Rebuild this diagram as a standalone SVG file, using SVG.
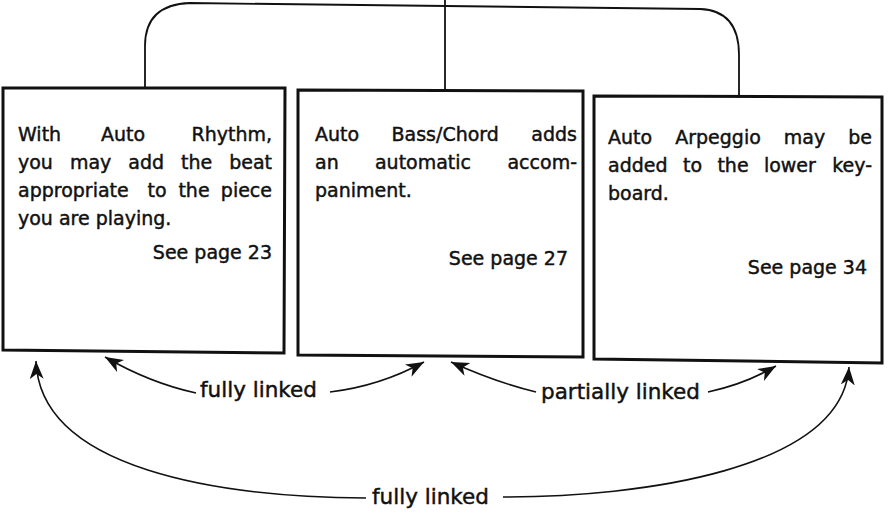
<svg xmlns="http://www.w3.org/2000/svg" width="888" height="523" viewBox="0 0 888 523">
<style>
text{font-family:"DejaVu Sans","Liberation Sans",sans-serif;font-size:19px;fill:#111;stroke:#111;stroke-width:0.45}
.lbl{font-size:21.5px}
.m{text-anchor:middle}
.e{text-anchor:end}
.box{fill:#fff;stroke:#111;stroke-width:3}
.ln{fill:none;stroke:#111;stroke-width:1.6}
.br{fill:none;stroke:#111;stroke-width:1.8}
</style>
<defs>
<marker id="ah" markerUnits="userSpaceOnUse" markerWidth="22" markerHeight="16" refX="18" refY="7" orient="auto">
<path d="M0,0 L18,7 L0,14 L5,7 Z" fill="#111"/>
</marker>
</defs>
<g id="bracket">
<path class="br" d="M145,88 L145,46 C145,18 160,4 190,3 L700,9 C726,10 739,26 739,55 L739,96"/>
<path class="br" d="M445,0 L445,90"/>
</g>
<g id="box1">
<polygon class="box" points="3,88 285,88 284,353 3,350"/>
<text x="18" y="141">With</text><text class="m" x="123" y="141">Auto</text><text class="e" x="272" y="141">Rhythm,</text>
<text x="18" y="169">you</text><text class="m" x="90.6" y="169">may</text><text class="m" x="146.2" y="169">add</text><text class="m" x="196.7" y="169">the</text><text class="e" x="272" y="169">beat</text>
<text x="18" y="197">appropriate</text><text class="m" x="157" y="197">to</text><text class="m" x="194" y="197">the</text><text class="e" x="272" y="197">piece</text>
<text x="18" y="225">you are playing.</text>
<text class="e" x="272" y="259">See page 23</text>
</g>
<g id="box2">
<polygon class="box" points="298,90 583,91 583,357 298,355"/>
<text x="315" y="141">Auto</text><text class="m" x="445.2" y="141">Bass/Chord</text><text class="e" x="577" y="141">adds</text>
<text x="315" y="169">an</text><text class="m" x="423" y="169">automatic</text><text class="e" x="577" y="169">accom-</text>
<text x="315" y="197">paniment.</text>
<text class="e" x="568" y="265">See page 27</text>
</g>
<g id="box3">
<polygon class="box" points="594,96 882,97 882,363 594,359"/>
<text x="608" y="144">Auto</text><text class="m" x="718" y="144">Arpeggio</text><text class="m" x="804.5" y="144">may</text><text class="e" x="872" y="144">be</text>
<text x="608" y="172">added</text><text class="m" x="692.5" y="172">to</text><text class="m" x="733" y="172">the</text><text class="m" x="789.9" y="172">lower</text><text class="e" x="872" y="172">key-</text>
<text x="608" y="200">board.</text>
<text class="e" x="867" y="274">See page 34</text>
</g>
<g id="connectors">
<path class="ln" d="M196,393 Q150,383 105,357" marker-end="url(#ah)"/>
<path class="ln" d="M330,392 Q380,386 424,362" marker-end="url(#ah)"/>
<path class="ln" d="M536,392 Q495,382 451,362" marker-end="url(#ah)"/>
<path class="ln" d="M708,392 Q745,384 776,366" marker-end="url(#ah)"/>
<path class="ln" d="M366,498 C220,497 40,470 36,361" marker-end="url(#ah)"/>
<path class="ln" d="M503,497 C640,497 842,470 849,367" marker-end="url(#ah)"/>
<text class="lbl" x="200" y="397">fully linked</text>
<text class="lbl" x="541" y="399">partially linked</text>
<text class="lbl" x="372" y="504">fully linked</text>
</g>
</svg>
